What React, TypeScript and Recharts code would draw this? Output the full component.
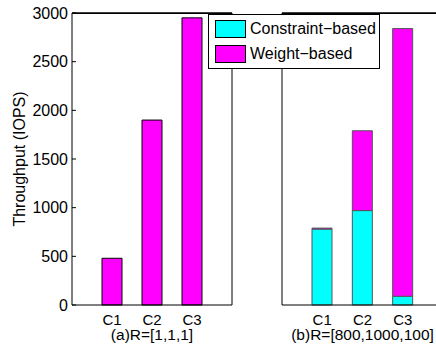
import { BarChart, Bar, XAxis, YAxis, ReferenceLine } from 'recharts';

const categories = ['C1', 'C2', 'C3'];
const equalWeightValues = [480, 1900, 2950];
const constraintValues = [780, 970, 90];
const weightValues = [10, 820, 2750];
const yTicks = [0, 500, 1000, 1500, 2000, 2500, 3000];

const CYAN = '#00ffff';
const MAGENTA = '#ff00ff';
const FONT = '"Liberation Sans", Arial, Helvetica, sans-serif';

const leftData = categories.map((name, i) => ({ name, weight: equalWeightValues[i] }));
const rightData = categories.map((name, i) => ({
  name,
  constraint: constraintValues[i],
  weight: weightValues[i],
}));

const tickStyle = { fill: '#000', fontSize: 16, fontFamily: FONT };
const xTickStyle = { fill: '#000', fontSize: 15, fontFamily: FONT };
const axisLine = { stroke: '#000', strokeWidth: 1 };
const margin = { top: 9, right: 7, bottom: 0, left: 12 };
const pad = { left: 20, right: 20 };

const App = () => {
  return (
    <div
      style={{
        position: 'absolute',
        left: 0,
        top: 0,
        width: 436,
        height: 344,
        overflow: 'hidden',
        background: '#fff',
        fontFamily: FONT,
      }}
    >
      {/* (a) equal weights */}
      <div style={{ position: 'absolute', left: 0, top: 0 }}>
        <BarChart width={240} height={344} data={leftData} margin={margin}>
          <XAxis
            dataKey="name"
            padding={pad}
            axisLine={axisLine}
            tickLine={false}
            tickMargin={3}
            tick={xTickStyle}
            height={39}
            label={{ value: '(a)R=[1,1,1]', position: 'insideBottom', offset: 4, fill: '#000', fontSize: 15.5 }}
          />
          <XAxis
            xAxisId="top"
            orientation="top"
            dataKey="name"
            padding={pad}
            height={4}
            tick={false}
            tickSize={-4}
            tickLine={{ stroke: '#000' }}
            axisLine={axisLine}
          />
          <YAxis
            domain={[0, 3000]}
            ticks={yTicks}
            width={60}
            axisLine={axisLine}
            tickLine={{ stroke: '#000' }}
            tickSize={-4}
            tickMargin={8}
            tick={tickStyle}
            label={{
              value: 'Throughput (IOPS)',
              angle: -90,
              position: 'insideLeft',
              offset: 7,
              fill: '#000',
              fontSize: 16,
              style: { textAnchor: 'middle' },
            }}
          />
          <YAxis
            yAxisId="r"
            orientation="right"
            domain={[0, 3000]}
            ticks={yTicks}
            width={1}
            tick={false}
            tickSize={-4}
            tickLine={{ stroke: '#000' }}
            axisLine={axisLine}
          />
          <ReferenceLine y={3000} stroke="#000" />
          <Bar dataKey="weight" fill={MAGENTA} stroke="#000" barSize={20} isAnimationActive={false} />
        </BarChart>
      </div>

      {/* (b) reservations */}
      <div style={{ position: 'absolute', left: 210, top: 0 }}>
        <BarChart width={240} height={344} data={rightData} margin={margin}>
          <XAxis
            dataKey="name"
            padding={pad}
            axisLine={axisLine}
            tickLine={false}
            tickMargin={3}
            tick={xTickStyle}
            height={39}
            label={{ value: '(b)R=[800,1000,100]', position: 'insideBottom', offset: 4, fill: '#000', fontSize: 15.5 }}
          />
          <XAxis
            xAxisId="top"
            orientation="top"
            dataKey="name"
            padding={pad}
            height={4}
            tick={false}
            tickSize={-4}
            tickLine={{ stroke: '#000' }}
            axisLine={axisLine}
          />
          <YAxis
            domain={[0, 3000]}
            ticks={yTicks}
            width={60}
            axisLine={axisLine}
            tickLine={false}
            tick={false}
          />
          <ReferenceLine y={3000} stroke="#000" />
          <Bar dataKey="constraint" stackId="s" fill={CYAN} stroke="#555" barSize={20} isAnimationActive={false} />
          <Bar dataKey="weight" stackId="s" fill={MAGENTA} stroke="#555" barSize={20} isAnimationActive={false} />
        </BarChart>
      </div>

      {/* box tops of both panels */}
      <div style={{ position: 'absolute', left: 72, top: 13, width: 160, height: 1, background: '#000' }} />
      <div style={{ position: 'absolute', left: 282, top: 13, width: 160, height: 1, background: '#000' }} />

      {/* legend */}
      <div
        style={{
          position: 'absolute',
          left: 208,
          top: 14,
          width: 170,
          height: 53,
          border: '1px solid #000',
          background: '#fff',
          fontSize: 16,
          color: '#000',
        }}
      >
        {[
          { label: 'Constraint−based', color: CYAN },
          { label: 'Weight−based', color: MAGENTA },
        ].map((item, i) => (
          <div
            key={item.label}
            style={{ position: 'absolute', left: 6, top: 4 + i * 25, height: 19, display: 'flex', alignItems: 'center' }}
          >
            <div style={{ width: 31, height: 18, background: item.color, border: '1px solid #000', boxSizing: 'border-box' }} />
            <span style={{ marginLeft: 4, whiteSpace: 'nowrap' }}>{item.label}</span>
          </div>
        ))}
      </div>
    </div>
  );
};

export default App;
